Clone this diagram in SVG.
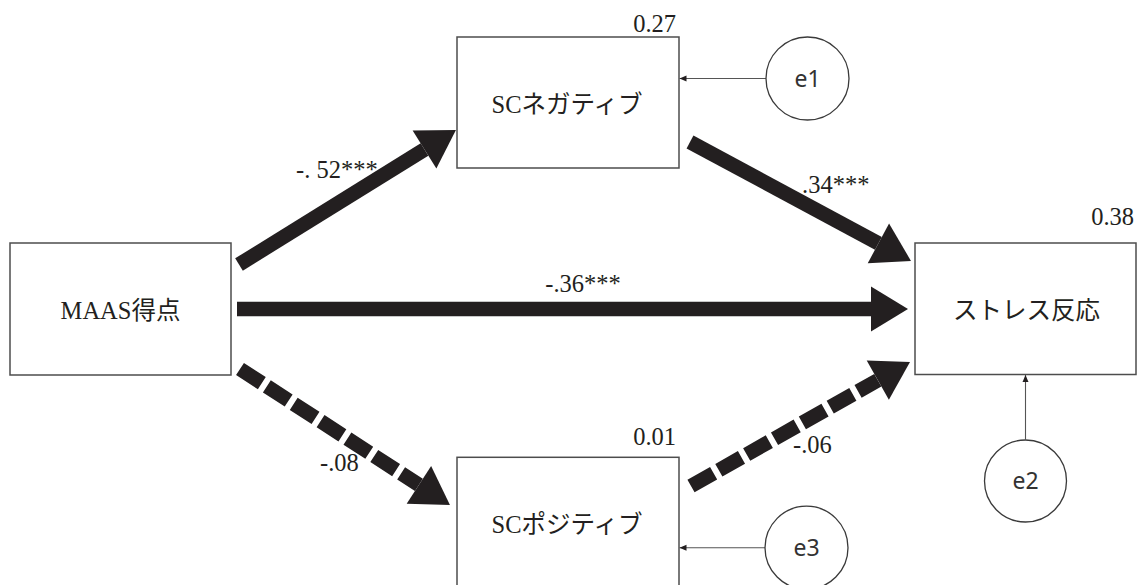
<svg xmlns="http://www.w3.org/2000/svg" width="1139" height="585" viewBox="0 0 1139 585">
<defs>
<style>
.box{fill:#fff;stroke:#4d4d4d;stroke-width:1.5}
.err{fill:#fff;stroke:#3a3a3a;stroke-width:1.3}
.lbl{font-family:'Liberation Serif','Noto Sans CJK JP',serif;font-size:24.5px;fill:#231f20}
.elbl{font-family:'Noto Sans','Liberation Sans',sans-serif;font-size:23px;fill:#333}
.thick{stroke:#231f20;stroke-width:14.5;fill:none;stroke-linecap:butt}
.dash{stroke-dasharray:26 6}
.thin{stroke:#555;stroke-width:1.1;fill:none}
</style>
<marker id="head" markerUnits="userSpaceOnUse" viewBox="0 -23 38 46" refX="0" refY="0" markerWidth="38" markerHeight="46" orient="auto" overflow="visible">
<path d="M0,-22.5 L37,0 L0,22.5 Z" fill="#231f20"/>
</marker>
<marker id="small" markerUnits="userSpaceOnUse" viewBox="0 -4 8 8" refX="7" refY="0" markerWidth="8" markerHeight="8" orient="auto" overflow="visible">
<path d="M0,-3 L7,0 L0,3 Z" fill="#231f20"/>
</marker>
</defs>
<rect width="1139" height="585" fill="#fff"/>
<g id="connectors">
<line class="thick" x1="239" y1="264.5" x2="424.5" y2="149.5" marker-end="url(#head)"/>
<line class="thick" x1="690" y1="142" x2="878.4" y2="243.4" marker-end="url(#head)"/>
<line class="thick" x1="237" y1="309" x2="871" y2="309" marker-end="url(#head)"/>
<line class="thick dash" x1="240" y1="369" x2="418.9" y2="484.9" marker-end="url(#head)"/>
<line class="thick dash" x1="691" y1="486" x2="877.8" y2="380.2" marker-end="url(#head)"/>
<line class="thin" x1="766" y1="78.5" x2="679.5" y2="78.5" marker-end="url(#small)"/>
<line class="thin" x1="765" y1="547.7" x2="679.5" y2="547.7" marker-end="url(#small)"/>
<line class="thin" x1="1025.5" y1="439.5" x2="1025.5" y2="375" marker-end="url(#small)"/>
<text class="lbl" x="296" y="178.3">-. 52***</text>
<text class="lbl" x="802" y="193.3">.34***</text>
<text class="lbl" x="583" y="291.7" text-anchor="middle">-.36***</text>
<text class="lbl" x="320" y="470.7">-.08</text>
<text class="lbl" x="793" y="452.5">-.06</text>
</g>
<g id="maas">
<rect class="box" x="10" y="243" width="221" height="132"/>
<text class="lbl" x="120.5" y="319" text-anchor="middle">MAAS得点</text>
</g>
<g id="scneg">
<rect class="box" x="457" y="37" width="222" height="131"/>
<text class="lbl" x="567" y="113" text-anchor="middle">SCネガティブ</text>
<text class="lbl" x="676" y="31.7" text-anchor="end">0.27</text>
</g>
<g id="scpos">
<rect class="box" x="457" y="457.3" width="222" height="140"/>
<text class="lbl" x="567" y="533" text-anchor="middle">SCポジティブ</text>
<text class="lbl" x="676" y="445" text-anchor="end">0.01</text>
</g>
<g id="stress">
<rect class="box" x="915" y="243" width="221" height="131.5"/>
<text class="lbl" x="1026.5" y="319" text-anchor="middle">ストレス反応</text>
<text class="lbl" x="1134" y="225" text-anchor="end">0.38</text>
</g>
<g id="e1">
<circle class="err" cx="807.5" cy="78.5" r="41.5"/>
<text class="elbl" x="807.5" y="86.5" text-anchor="middle">e1</text>
</g>
<g id="e2">
<circle class="err" cx="1025.5" cy="481" r="41"/>
<text class="elbl" x="1025.5" y="489" text-anchor="middle">e2</text>
</g>
<g id="e3">
<circle class="err" cx="806.5" cy="547.7" r="41.5"/>
<text class="elbl" x="806.5" y="555.7" text-anchor="middle">e3</text>
</g>
</svg>
